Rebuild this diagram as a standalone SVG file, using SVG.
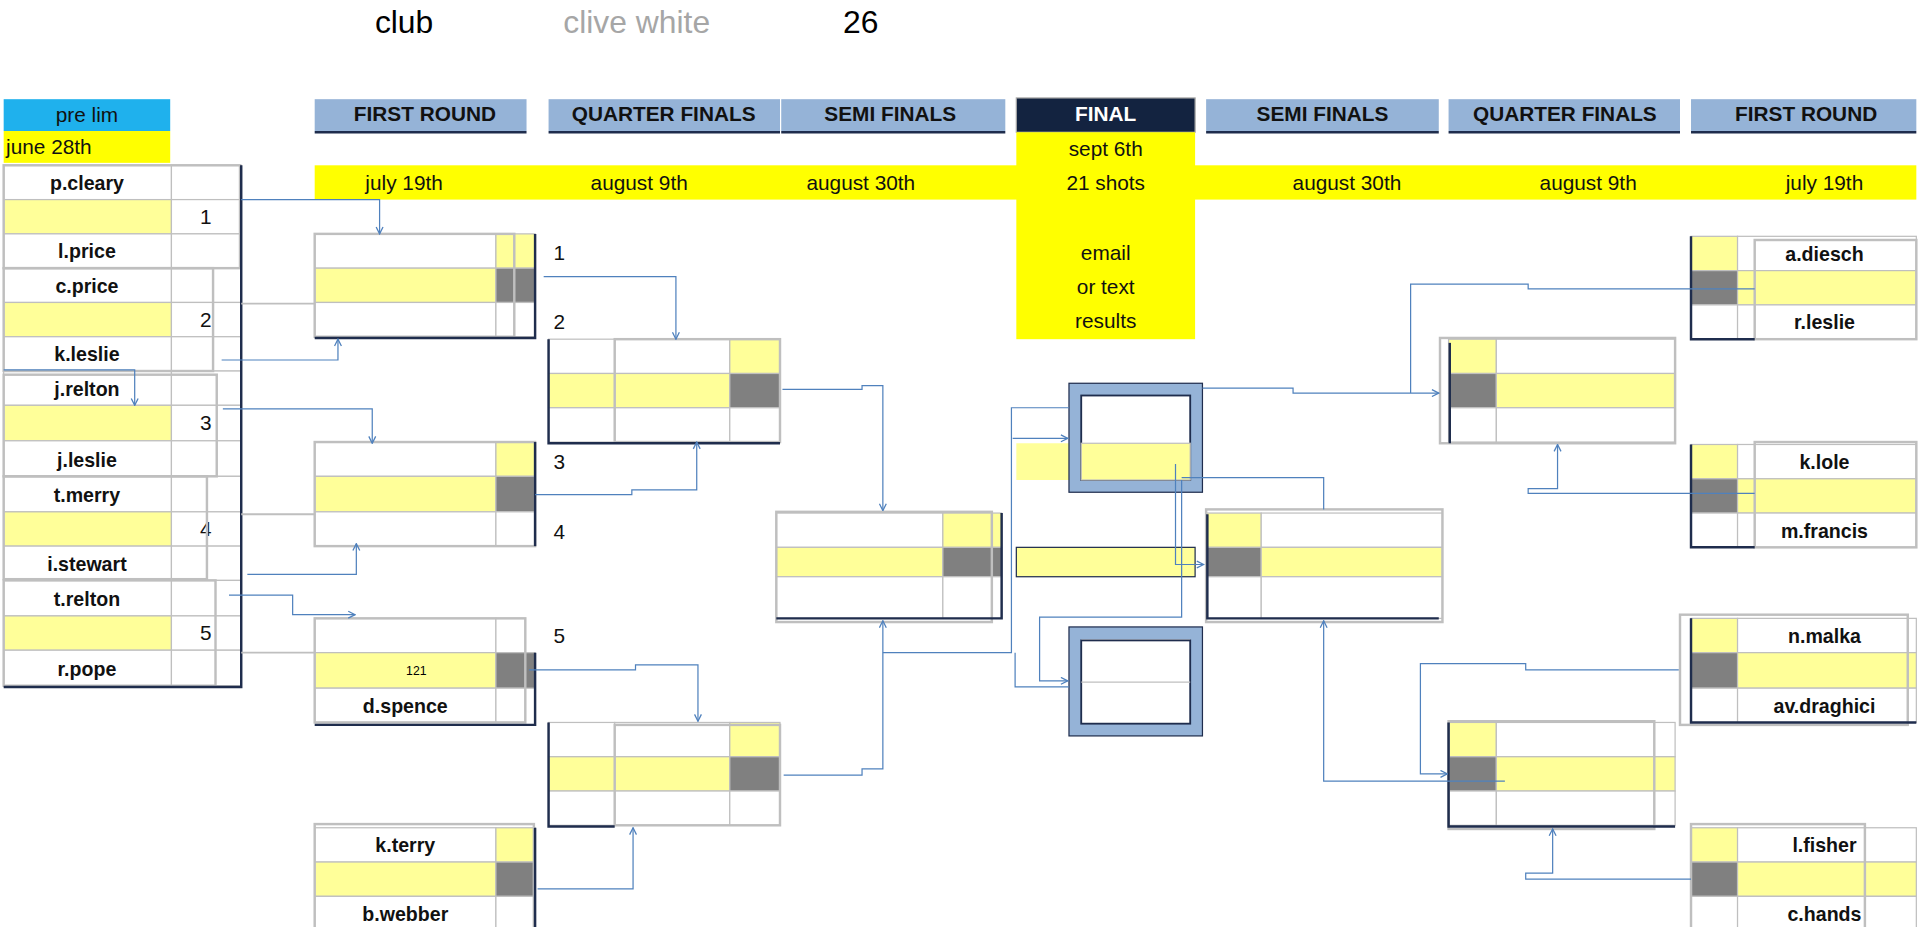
<svg xmlns="http://www.w3.org/2000/svg" width="1920" height="927" viewBox="0 0 1920 927">
<style>
.w{fill:#fff;stroke:#bfbfbf;stroke-width:1}
.y{fill:#ffff99;stroke:#bfbfbf;stroke-width:1}
.g{fill:#808080;stroke:#bfbfbf;stroke-width:1}
.hd{fill:#95b3d7;stroke:#1f2d4d;stroke-width:0}
.ht{font-family:"Liberation Sans",Arial,sans-serif;font-weight:bold;font-size:17px;fill:#111;text-anchor:middle}
.t{font-family:"Liberation Sans",Arial,sans-serif;font-size:17px;fill:#111;text-anchor:middle}
.s{font-family:"Liberation Sans",Arial,sans-serif;font-size:17px;fill:#111;text-anchor:start}
.n{font-family:"Liberation Sans",Arial,sans-serif;font-weight:bold;font-size:16px;fill:#111;text-anchor:middle}
.c{fill:none;stroke:#4f81bd;stroke-width:1}
.gl{fill:none;stroke:#bfbfbf;stroke-width:1.5}
.fr{fill:none;stroke:#bfbfbf;stroke-width:2}
.dk{fill:none;stroke:#1f2d4d;stroke-width:2}
</style>
<defs>
<marker id="a" viewBox="0 0 10 10" refX="9" refY="5" markerWidth="7" markerHeight="7" orient="auto"><path d="M1,1 L9,5 L1,9" fill="none" stroke="#4f81bd" stroke-width="1.5"/></marker>
</defs>
<rect width="1920" height="927" fill="#fff"/>
<g transform="scale(1.22449)">
<g id="title" font-family="Liberation Sans,Arial,sans-serif" font-size="26">
<text x="330" y="27" text-anchor="middle" fill="#000">club</text>
<text x="520" y="27" text-anchor="middle" fill="#a6a6a6">clive white</text>
<text x="703" y="27" text-anchor="middle" fill="#000">26</text>
</g>
<g id="headers">
<rect x="3" y="81" width="136" height="26" fill="#1fb1ed"/><text class="t" x="71" y="100">pre lim</text>
<rect x="3" y="107" width="136" height="26" fill="#ffff00"/><text class="s" x="5" y="126">june 28th</text>
<rect class="hd" x="257" y="81" width="173" height="26"/><line class="dk" x1="257" y1="108" x2="430" y2="108"/><text class="ht" x="347" y="99">FIRST ROUND</text>
<rect class="hd" x="448" y="81" width="189" height="26"/><line class="dk" x1="448" y1="108" x2="637" y2="108"/><text class="ht" x="542" y="99">QUARTER FINALS</text>
<rect class="hd" x="638" y="81" width="183" height="26"/><line class="dk" x1="638" y1="108" x2="821" y2="108"/><text class="ht" x="727" y="99">SEMI FINALS</text>
<rect x="830" y="80" width="146" height="28" fill="#132340" stroke="#a6a6a6"/><text class="ht" x="903" y="99" style="fill:#fff">FINAL</text>
<rect class="hd" x="985" y="81" width="190" height="26"/><line class="dk" x1="985" y1="108" x2="1175" y2="108"/><text class="ht" x="1080" y="99">SEMI FINALS</text>
<rect class="hd" x="1183" y="81" width="189" height="26"/><line class="dk" x1="1183" y1="108" x2="1372" y2="108"/><text class="ht" x="1278" y="99">QUARTER FINALS</text>
<rect class="hd" x="1381" y="81" width="184" height="26"/><line class="dk" x1="1381" y1="108" x2="1565" y2="108"/><text class="ht" x="1475" y="99">FIRST ROUND</text>
<rect x="257" y="135" width="1308" height="28" fill="#ffff00"/>
<rect x="830" y="108" width="146" height="169" fill="#ffff00"/>
<g><text class="t" x="330" y="155">july 19th</text><text class="t" x="522" y="155">august 9th</text><text class="t" x="703" y="155">august 30th</text>
<text class="t" x="903" y="127">sept 6th</text><text class="t" x="903" y="155">21 shots</text><text class="t" x="903" y="212">email</text><text class="t" x="903" y="240">or text</text><text class="t" x="903" y="268">results</text>
<text class="t" x="1100" y="155">august 30th</text><text class="t" x="1297" y="155">august 9th</text><text class="t" x="1490" y="155">july 19th</text></g>
</g>
<g id="prelim">
<rect class="w" x="3" y="135" width="137" height="28"/><rect class="w" x="140" y="135" width="57" height="28"/><text class="n" x="71" y="155">p.cleary</text>
<rect class="y" x="3" y="163" width="137" height="28"/><rect class="w" x="140" y="163" width="57" height="28"/><text class="t" x="168" y="183">1</text>
<rect class="w" x="3" y="191" width="137" height="28"/><rect class="w" x="140" y="191" width="57" height="28"/><text class="n" x="71" y="211">l.price</text>
<rect class="w" x="3" y="219" width="137" height="28"/><rect class="w" x="140" y="219" width="57" height="28"/><text class="n" x="71" y="239">c.price</text>
<rect class="y" x="3" y="247" width="137" height="28"/><rect class="w" x="140" y="247" width="57" height="28"/><text class="t" x="168" y="267">2</text>
<rect class="w" x="3" y="275" width="137" height="28"/><rect class="w" x="140" y="275" width="57" height="28"/><text class="n" x="71" y="295">k.leslie</text>
<rect class="w" x="3" y="303" width="137" height="28"/><rect class="w" x="140" y="303" width="57" height="28"/><text class="n" x="71" y="323">j.relton</text>
<rect class="y" x="3" y="331" width="137" height="29"/><rect class="w" x="140" y="331" width="57" height="29"/><text class="t" x="168" y="351">3</text>
<rect class="w" x="3" y="360" width="137" height="29"/><rect class="w" x="140" y="360" width="57" height="29"/><text class="n" x="71" y="381">j.leslie</text>
<rect class="w" x="3" y="389" width="137" height="29"/><rect class="w" x="140" y="389" width="57" height="29"/><text class="n" x="71" y="410">t.merry</text>
<rect class="y" x="3" y="418" width="137" height="28"/><rect class="w" x="140" y="418" width="57" height="28"/><text class="t" x="168" y="438">4</text>
<rect class="w" x="3" y="446" width="137" height="28"/><rect class="w" x="140" y="446" width="57" height="28"/><text class="n" x="71" y="466">i.stewart</text>
<rect class="w" x="3" y="474" width="137" height="29"/><rect class="w" x="140" y="474" width="57" height="29"/><text class="n" x="71" y="495">t.relton</text>
<rect class="y" x="3" y="503" width="137" height="28"/><rect class="w" x="140" y="503" width="57" height="28"/><text class="t" x="168" y="523">5</text>
<rect class="w" x="3" y="531" width="137" height="29"/><rect class="w" x="140" y="531" width="57" height="29"/><text class="n" x="71" y="552">r.pope</text>
<rect class="fr" x="3" y="135" width="193" height="84"/><rect class="fr" x="3" y="219" width="171" height="84"/><rect class="fr" x="3" y="306" width="174" height="83"/><rect class="fr" x="3" y="389" width="166" height="84"/><rect class="fr" x="3" y="474" width="173" height="86"/>
<path class="dk" d="M197,135 V561 H3"/>
</g>
<g id="fr-left">
<g id="fl1"><rect class="w" x="257" y="191" width="148" height="28"/><rect class="y" x="405" y="191" width="32" height="28"/>
<rect class="y" x="257" y="219" width="148" height="28"/><rect class="g" x="405" y="219" width="32" height="28"/>
<rect class="w" x="257" y="247" width="148" height="28"/><rect class="w" x="405" y="247" width="32" height="28"/>
<rect class="fr" x="257" y="191" width="163" height="84"/><path class="dk" d="M437,191 V276 H257"/></g>
<g id="fl2"><rect class="w" x="257" y="361" width="148" height="28"/><rect class="y" x="405" y="361" width="32" height="28"/>
<rect class="y" x="257" y="389" width="148" height="29"/><rect class="g" x="405" y="389" width="32" height="29"/>
<rect class="w" x="257" y="418" width="148" height="28"/><rect class="w" x="405" y="418" width="32" height="28"/>
<rect class="fr" x="257" y="361" width="180" height="85"/><path class="dk" d="M437,361 V446"/></g>
<g id="fl3"><rect class="w" x="257" y="505" width="148" height="28"/><rect class="w" x="405" y="505" width="24" height="28"/>
<rect class="y" x="257" y="533" width="148" height="29"/><rect class="g" x="405" y="533" width="32" height="29"/><text x="340" y="551" font-family="Liberation Sans,Arial,sans-serif" font-size="10" text-anchor="middle">121</text>
<rect class="w" x="257" y="562" width="148" height="28"/><rect class="w" x="405" y="562" width="24" height="28"/><text class="n" x="331" y="582">d.spence</text>
<rect class="fr" x="257" y="505" width="172" height="85"/><path class="dk" d="M437,533 V592 H257"/></g>
<g id="fl4"><rect class="w" x="257" y="676" width="148" height="28"/><rect class="y" x="405" y="676" width="32" height="28"/><text class="n" x="331" y="696">k.terry</text>
<rect class="y" x="257" y="704" width="148" height="28"/><rect class="g" x="405" y="704" width="32" height="28"/>
<rect class="w" x="257" y="732" width="148" height="28"/><rect class="w" x="405" y="732" width="32" height="28"/><text class="n" x="331" y="752">b.webber</text>
<rect class="fr" x="257" y="673" width="179" height="90"/><path class="dk" d="M437,676 V760"/></g>
<g><text class="s" x="452" y="212">1</text><text class="s" x="452" y="269">2</text><text class="s" x="452" y="383">3</text><text class="s" x="452" y="440">4</text><text class="s" x="452" y="525">5</text></g>
</g>
<g id="qf-left">
<g id="ql1"><rect class="w" x="448" y="277" width="54" height="28"/><rect class="w" x="502" y="277" width="94" height="28"/><rect class="y" x="596" y="277" width="41" height="28"/>
<rect class="y" x="448" y="305" width="54" height="28"/><rect class="y" x="502" y="305" width="94" height="28"/><rect class="g" x="596" y="305" width="41" height="28"/>
<rect class="w" x="448" y="333" width="54" height="28"/><rect class="w" x="502" y="333" width="94" height="28"/><rect class="w" x="596" y="333" width="41" height="28"/>
<rect class="fr" x="502" y="277" width="135" height="84"/><path class="dk" d="M448,277 V362 H637"/></g>
<g id="ql2"><rect class="w" x="448" y="590" width="54" height="28"/><rect class="w" x="502" y="590" width="94" height="28"/><rect class="y" x="596" y="590" width="41" height="28"/>
<rect class="y" x="448" y="618" width="54" height="28"/><rect class="y" x="502" y="618" width="94" height="28"/><rect class="g" x="596" y="618" width="41" height="28"/>
<rect class="w" x="448" y="646" width="54" height="28"/><rect class="w" x="502" y="646" width="94" height="28"/><rect class="w" x="596" y="646" width="41" height="28"/>
<rect class="fr" x="502" y="592" width="135" height="82"/><path class="dk" d="M448,590 V675 H502"/></g>
</g>
<g id="sf-left"><rect class="w" x="634" y="419" width="136" height="28"/><rect class="y" x="770" y="419" width="48" height="28"/>
<rect class="y" x="634" y="447" width="136" height="24"/><rect class="g" x="770" y="447" width="48" height="24"/>
<rect class="w" x="634" y="471" width="136" height="34"/><rect class="w" x="770" y="471" width="48" height="34"/>
<rect class="fr" x="634" y="418" width="176" height="90"/><path class="dk" d="M818,419 V505 H634"/></g>
<g id="final">
<rect x="830" y="362" width="43" height="30" fill="#ffff99"/>
<g id="ft"><rect x="878" y="318" width="99" height="79" fill="#fff" stroke="#95b3d7" stroke-width="10"/><rect x="883" y="323" width="89" height="69" fill="#fff" stroke="#1f2d4d" stroke-width="1.5"/><rect class="y" x="883" y="362" width="89" height="30"/><rect x="873" y="313" width="109" height="89" fill="none" stroke="#1f2d4d" stroke-width="1"/></g>
<g id="fb"><rect x="878" y="517" width="99" height="79" fill="#fff" stroke="#95b3d7" stroke-width="10"/><rect x="883" y="523" width="89" height="68" fill="#fff" stroke="#1f2d4d" stroke-width="1.5"/><line x1="883" y1="557" x2="972" y2="557" stroke="#bfbfbf"/><rect x="873" y="512" width="109" height="89" fill="none" stroke="#1f2d4d" stroke-width="1"/></g>
<rect x="830" y="447" width="146" height="24" fill="#ffff99" stroke="#1f2d4d" stroke-width="1"/>
</g>
<g id="sf-right"><rect class="y" x="985" y="419" width="45" height="28"/><rect class="w" x="1030" y="419" width="148" height="28"/>
<rect class="g" x="985" y="447" width="45" height="24"/><rect class="y" x="1030" y="447" width="148" height="24"/>
<rect class="w" x="985" y="471" width="45" height="34"/><rect class="w" x="1030" y="471" width="148" height="34"/>
<rect class="fr" x="985" y="416" width="193" height="92"/><path class="dk" d="M986,420 V505 H1175"/></g>
<g id="qf-right">
<g id="qr1"><rect class="y" x="1183" y="277" width="39" height="28"/><rect class="w" x="1222" y="277" width="146" height="28"/>
<rect class="g" x="1183" y="305" width="39" height="28"/><rect class="y" x="1222" y="305" width="146" height="28"/>
<rect class="w" x="1183" y="333" width="39" height="28"/><rect class="w" x="1222" y="333" width="146" height="28"/>
<rect class="fr" x="1176" y="276" width="192" height="86"/><path class="dk" d="M1184,280 V362"/></g>
<g id="qr2"><rect class="y" x="1183" y="590" width="39" height="28"/><rect class="w" x="1222" y="590" width="146" height="28"/>
<rect class="g" x="1183" y="618" width="39" height="28"/><rect class="y" x="1222" y="618" width="146" height="28"/>
<rect class="w" x="1183" y="646" width="39" height="28"/><rect class="w" x="1222" y="646" width="146" height="28"/>
<rect class="fr" x="1183" y="589" width="168" height="88"/><path class="dk" d="M1183,590 V675 H1368"/></g>
</g>
<g id="fr-right">
<g id="rr1"><rect class="y" x="1381" y="193" width="38" height="28"/><rect class="w" x="1419" y="193" width="146" height="28"/><text class="n" x="1490" y="213">a.diesch</text>
<rect class="g" x="1381" y="221" width="38" height="28"/><rect class="y" x="1419" y="221" width="146" height="28"/>
<rect class="w" x="1381" y="249" width="38" height="28"/><rect class="w" x="1419" y="249" width="146" height="28"/><text class="n" x="1490" y="269">r.leslie</text>
<rect class="fr" x="1433" y="196" width="132" height="81"/><path class="dk" d="M1381,193 V277 H1433"/></g>
<g id="rr2"><rect class="y" x="1381" y="363" width="38" height="28"/><rect class="w" x="1419" y="363" width="146" height="28"/><text class="n" x="1490" y="383">k.lole</text>
<rect class="g" x="1381" y="391" width="38" height="28"/><rect class="y" x="1419" y="391" width="146" height="28"/>
<rect class="w" x="1381" y="419" width="38" height="28"/><rect class="w" x="1419" y="419" width="146" height="28"/><text class="n" x="1490" y="439">m.francis</text>
<rect class="fr" x="1433" y="361" width="132" height="86"/><path class="dk" d="M1381,363 V447 H1433"/></g>
<g id="rr3"><rect class="y" x="1381" y="505" width="38" height="28"/><rect class="w" x="1419" y="505" width="146" height="28"/><text class="n" x="1490" y="525">n.malka</text>
<rect class="g" x="1381" y="533" width="38" height="29"/><rect class="y" x="1419" y="533" width="146" height="29"/>
<rect class="w" x="1381" y="562" width="38" height="28"/><rect class="w" x="1419" y="562" width="146" height="28"/><text class="n" x="1490" y="582">av.draghici</text>
<rect class="fr" x="1372" y="502" width="186" height="90"/><path class="dk" d="M1381,505 V590 H1565"/></g>
<g id="rr4"><rect class="y" x="1381" y="676" width="38" height="28"/><rect class="w" x="1419" y="676" width="146" height="28"/><text class="n" x="1490" y="696">l.fisher</text>
<rect class="g" x="1381" y="704" width="38" height="28"/><rect class="y" x="1419" y="704" width="146" height="28"/>
<rect class="w" x="1381" y="732" width="38" height="28"/><rect class="w" x="1419" y="732" width="146" height="28"/><text class="n" x="1490" y="752">c.hands</text>
<rect class="fr" x="1381" y="673" width="142" height="90"/></g>
</g>
<g id="connectors">
<path class="gl" d="M197,248 H257 M197,420 H257 M197,533 H257"/>
<path class="c" marker-end="url(#a)" d="M197,163 H310 V191"/>
<path class="c" marker-end="url(#a)" d="M181,294 H276 V277"/>
<path class="c" marker-end="url(#a)" d="M3,302 H110 V331"/>
<path class="c" marker-end="url(#a)" d="M182,334 H304 V362"/>
<path class="c" marker-end="url(#a)" d="M202,469 H291 V444"/>
<path class="c" marker-end="url(#a)" d="M187,486 H239 V502 H290"/>
<path class="c" marker-end="url(#a)" d="M444,226 H552 V277"/>
<path class="c" marker-end="url(#a)" d="M437,404 H516 V400 H569 V361"/>
<path class="c" marker-end="url(#a)" d="M432,547 H519 V543 H570 V589"/>
<path class="c" marker-end="url(#a)" d="M439,726 H517 V676"/>
<path class="c" marker-end="url(#a)" d="M639,318 H704 V315 H721 V417"/>
<path class="c" marker-end="url(#a)" d="M640,633 H704 V628 H721 V507"/>
<path class="c" d="M721,533 H826 V333 H873"/>
<path class="c" marker-end="url(#a)" d="M827,358 H872"/>
<path class="c" d="M829,533 V561 H873"/>
<path class="c" marker-end="url(#a)" d="M965,392 V504 H849 V556 H872"/>
<path class="c" marker-end="url(#a)" d="M960,379 V461 H983"/>
<path class="c" d="M965,390 H1081 V416"/>
<path class="c" marker-end="url(#a)" d="M982,317 H1056 V321 H1175"/>
<path class="c" d="M1433,236 H1248 V232 H1152 V321"/>
<path class="c" marker-end="url(#a)" d="M1433,403 H1248 V399 H1272 V363"/>
<path class="c" marker-end="url(#a)" d="M1229,638 H1081 V507"/>
<path class="c" marker-end="url(#a)" d="M1371,547 H1246 V542 H1160 V632 H1182"/>
<path class="c" marker-end="url(#a)" d="M1381,718 H1246 V713 H1268 V677"/>
</g>
</g>
</svg>
